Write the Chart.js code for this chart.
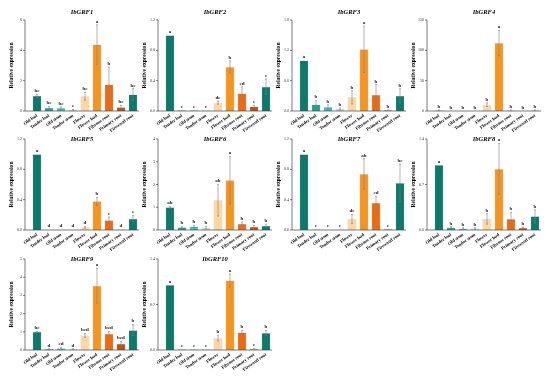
<!DOCTYPE html>
<html>
<head>
<meta charset="utf-8">
<script src="https://cdn.jsdelivr.net/npm/chart.js@4"></script>
<style>
    body { margin: 0; background: #ffffff; width: 550px; height: 381px; position: relative; overflow: hidden; }
    canvas { position: absolute; }
</style>
</head>
<body>
<script>
const categories = ["Old leaf", "Tender leaf", "Old stem", "Tender stem", "Flower", "Flower bud", "Fibrous root", "Primary root", "Firewood root"];
const barColors = ["#0b7a6a", "#16a594", "#2cc5b3", "#a3e2d9", "#fdd6a2", "#f7941e", "#ee6a12", "#bf500d", "#0b7a6a"];

const grf1Values = [1.0, 0.22, 0.2, 0.07, 0.97, 4.38, 1.74, 0.25, 1.09];
const grf1Errors = [0.1, 0.07, 0.07, 0.03, 0.25, 1.3, 1.15, 0.12, 0.38];
const grf1Letters = ["bc", "bc", "bc", "c", "bc", "a", "b", "bc", "bc"];
const grf1Ticks = ["0", "2", "4", "6"];

const grf2Values = [1.0, 0.01, 0.01, 0.01, 0.11, 0.58, 0.23, 0.06, 0.32];
const grf2Errors = [0, 0.003, 0.003, 0.003, 0.02, 0.08, 0.09, 0.015, 0.1];
const grf2Letters = ["a", "e", "e", "e", "de", "b", "cd", "e", "c"];
const grf2Ticks = ["0.0", "0.4", "0.8", "1.2"];

const grf3Values = [1.0, 0.13, 0.08, 0.04, 0.27, 1.22, 0.32, 0.015, 0.3];
const grf3Errors = [0, 0.08, 0.04, 0.02, 0.13, 0.46, 0.2, 0.005, 0.14];
const grf3Letters = ["a", "b", "b", "b", "b", "a", "b", "b", "b"];
const grf3Ticks = ["0.0", "0.6", "1.2", "1.8"];

const grf4Values = [1.0, 0.2, 0.2, 0.1, 10.4, 112, 1.0, 0.3, 1.0];
const grf4Errors = [0.5, 0.1, 0.1, 0.05, 3, 21, 0.5, 0.1, 0.5];
const grf4Letters = ["b", "b", "b", "b", "b", "a", "b", "b", "b"];
const grf4Ticks = ["0", "50", "100", "150"];

const grf5Values = [1.0, 0.003, 0.003, 0.003, 0.035, 0.38, 0.13, 0.005, 0.15];
const grf5Errors = [0, 0.001, 0.001, 0.001, 0.01, 0.05, 0.04, 0.002, 0.04];
const grf5Letters = ["a", "d", "d", "d", "d", "b", "c", "d", "c"];
const grf5Ticks = ["0.0", "0.4", "0.8", "1.2"];

const grf6Values = [1.0, 0.12, 0.15, 0.1, 1.31, 2.19, 0.28, 0.14, 0.19];
const grf6Errors = [0.04, 0.03, 0.06, 0.06, 0.7, 1.05, 0.07, 0.06, 0.06];
const grf6Letters = ["ab", "b", "b", "b", "ab", "a", "b", "b", "b"];
const grf6Ticks = ["0", "1", "2", "3", "4"];

const grf7Values = [1.0, 0.005, 0.003, 0.003, 0.145, 0.74, 0.36, 0.01, 0.62];
const grf7Errors = [0, 0.002, 0.001, 0.001, 0.06, 0.2, 0.08, 0.003, 0.25];
const grf7Letters = ["a", "e", "e", "e", "de", "ab", "cd", "e", "bc"];
const grf7Ticks = ["0.0", "0.4", "0.8", "1.2"];

const grf8Values = [1.0, 0.04, 0.025, 0.025, 0.17, 0.94, 0.17, 0.036, 0.21];
const grf8Errors = [0, 0.01, 0.01, 0.01, 0.08, 0.39, 0.1, 0.01, 0.1];
const grf8Letters = ["a", "b", "b", "b", "b", "a", "b", "b", "b"];
const grf8Ticks = ["0.0", "0.7", "1.4"];

const grf9Values = [1.0, 0.05, 0.1, 0.05, 0.8, 3.53, 0.89, 0.34, 1.09];
const grf9Errors = [0.02, 0.02, 0.04, 0.02, 0.1, 0.95, 0.12, 0.12, 0.3];
const grf9Letters = ["bc", "d", "cd", "d", "bcd", "a", "bcd", "bcd", "b"];
const grf9Ticks = ["0", "1", "2", "3", "4", "5"];

const grf10Values = [1.0, 0.01, 0.01, 0.01, 0.18, 1.07, 0.27, 0.015, 0.26];
const grf10Errors = [0, 0.003, 0.003, 0.003, 0.04, 0.1, 0.03, 0.005, 0.04];
const grf10Letters = ["a", "c", "c", "c", "b", "a", "b", "c", "b"];
const grf10Ticks = ["0.0", "0.7", "1.4"];

const panels = [
    { title: "IbGRF1", values: grf1Values, errors: grf1Errors, letters: grf1Letters, ticks: grf1Ticks, axisX: 25, top: 20, titleShift: -8 },
    { title: "IbGRF2", values: grf2Values, errors: grf2Errors, letters: grf2Letters, ticks: grf2Ticks, axisX: 158, top: 20, titleShift: -8 },
    { title: "IbGRF3", values: grf3Values, errors: grf3Errors, letters: grf3Letters, ticks: grf3Ticks, axisX: 292, top: 20, titleShift: -8 },
    { title: "IbGRF4", values: grf4Values, errors: grf4Errors, letters: grf4Letters, ticks: grf4Ticks, axisX: 427, top: 20, titleShift: -8 },
    { title: "IbGRF5", values: grf5Values, errors: grf5Errors, letters: grf5Letters, ticks: grf5Ticks, axisX: 25, top: 139, titleShift: 0 },
    { title: "IbGRF6", values: grf6Values, errors: grf6Errors, letters: grf6Letters, ticks: grf6Ticks, axisX: 158, top: 139, titleShift: 0 },
    { title: "IbGRF7", values: grf7Values, errors: grf7Errors, letters: grf7Letters, ticks: grf7Ticks, axisX: 292, top: 139, titleShift: 0 },
    { title: "IbGRF8", values: grf8Values, errors: grf8Errors, letters: grf8Letters, ticks: grf8Ticks, axisX: 427, top: 139, titleShift: 0 },
    { title: "IbGRF9", values: grf9Values, errors: grf9Errors, letters: grf9Letters, ticks: grf9Ticks, axisX: 25, top: 259, titleShift: 0 },
    { title: "IbGRF10", values: grf10Values, errors: grf10Errors, letters: grf10Letters, ticks: grf10Ticks, axisX: 158, top: 259, titleShift: 0 }
];

const SERIF = "'Liberation Serif', 'Times New Roman', serif";
const PLOT_H = 91;
const AXIS_GAP = 6;

// axis line, error bars, letters and title
const panelDecor = {
    id: "panelDecor",
    afterDatasetsDraw(chart, args, opts) {
        const { ctx, chartArea } = chart;
        const y = chart.scales.y;
        const meta = chart.getDatasetMeta(0);
        const axisLeft = chartArea.left - AXIS_GAP;

        ctx.save();
        ctx.strokeStyle = "#444";
        ctx.lineWidth = 0.7;
        ctx.beginPath();
        ctx.moveTo(axisLeft, chartArea.top);
        ctx.lineTo(axisLeft, chartArea.bottom);
        ctx.lineTo(chartArea.right, chartArea.bottom);
        y.ticks.forEach(t => {
            const py = y.getPixelForValue(t.value);
            ctx.moveTo(axisLeft, py);
            ctx.lineTo(axisLeft - 2, py);
        });
        ctx.stroke();

        ctx.strokeStyle = "#808080";
        ctx.lineWidth = 0.6;
        meta.data.forEach((bar, i) => {
            const v = opts.values[i];
            const e = opts.errors[i];
            const cx = bar.x;
            const hi = y.getPixelForValue(v + e);
            const lo = y.getPixelForValue(Math.max(v - e, 0));
            if (e > 0 && lo - hi > 0.5) {
                ctx.beginPath();
                ctx.moveTo(cx, hi);
                ctx.lineTo(cx, lo);
                ctx.moveTo(cx - 1, hi);
                ctx.lineTo(cx + 1, hi);
                ctx.moveTo(cx - 1, lo);
                ctx.lineTo(cx + 1, lo);
                ctx.stroke();
            }
            ctx.fillStyle = "#111";
            ctx.font = "bold 5px " + SERIF;
            ctx.textAlign = "center";
            ctx.textBaseline = "bottom";
            ctx.fillText(opts.letters[i], cx, Math.min(hi, bar.y) - 1);
        });

        ctx.font = "italic bold 6.5px " + SERIF;
        ctx.fillStyle = "#000";
        ctx.textAlign = "center";
        ctx.textBaseline = "middle";
        ctx.fillText(opts.title, (axisLeft + chartArea.right) / 2, chartArea.top + opts.titleShift);
        ctx.restore();
    }
};

panels.forEach(p => {
    const canvas = document.createElement("canvas");
    canvas.width = 146;
    canvas.height = 132;
    canvas.style.left = (p.axisX - 26) + "px";
    canvas.style.top = (p.top - 20) + "px";
    document.body.appendChild(canvas);

    const tickValues = p.ticks.map(Number);

    new Chart(canvas, {
        type: "bar",
        data: {
            labels: categories,
            datasets: [{
                data: p.values,
                backgroundColor: barColors,
                borderColor: "rgba(0, 0, 0, 0.25)",
                borderWidth: 0.5,
                barPercentage: 0.74,
                categoryPercentage: 1
            }]
        },
        options: {
            responsive: false,
            animation: false,
            devicePixelRatio: 1,
            layout: { padding: { top: 20, right: 6, left: 9, bottom: 0 } },
            plugins: {
                legend: { display: false },
                tooltip: { enabled: false },
                panelDecor: { values: p.values, errors: p.errors, letters: p.letters, title: p.title, titleShift: p.titleShift }
            },
            scales: {
                x: {
                    grid: { display: false, drawTicks: false },
                    border: { display: false },
                    afterFit: scale => { scale.height = 132 - 20 - PLOT_H; },
                    ticks: {
                        autoSkip: false,
                        minRotation: 35,
                        maxRotation: 35,
                        padding: 2,
                        color: "#000",
                        font: { family: SERIF, size: 4.6, weight: "bold" }
                    }
                },
                y: {
                    min: 0,
                    max: tickValues[tickValues.length - 1],
                    grid: { display: false, drawTicks: false },
                    border: { display: false },
                    afterFit: scale => { scale.width = 23; },
                    afterBuildTicks: scale => { scale.ticks = tickValues.map(v => ({ value: v })); },
                    title: {
                        display: true,
                        text: "Relative expression",
                        color: "#000",
                        padding: 0,
                        font: { family: SERIF, size: 5.6, weight: "bold" }
                    },
                    ticks: {
                        padding: AXIS_GAP + 3,
                        color: "#333",
                        font: { family: SERIF, size: 4 },
                        callback: (value, index) => p.ticks[index]
                    }
                }
            }
        },
        plugins: [panelDecor]
    });
});
</script>
</body>
</html>
